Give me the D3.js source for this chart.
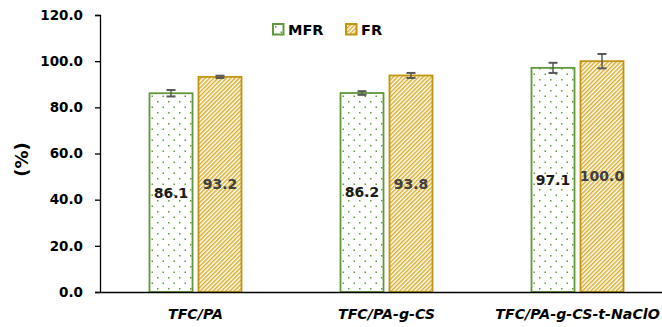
<!DOCTYPE html>
<html>
<head>
<meta charset="utf-8">
<script src="https://cdn.jsdelivr.net/npm/d3@7"></script>
<style>
  body { margin: 0; background: #fff; }
  svg { display: block; font-family: 'DejaVu Sans', sans-serif; }
</style>
</head>
<body>
<svg id="chart" width="662" height="327"></svg>
<script>
const categories = ['TFC/PA', 'TFC/PA-g-CS', 'TFC/PA-g-CS-t-NaClO'];
const seriesNames = ['MFR', 'FR'];
const mfrValues = [86.1, 86.2, 97.1];
const frValues = [93.2, 93.8, 100.0];
const mfrErrors = [1.4, 0.8, 2.2];
const frErrors = [0.5, 1.1, 3.1];
const yTicks = [0, 20, 40, 60, 80, 100, 120];

const MARGINS = { top: 15, bottom: 35, left: 100, right: -11 };
const width = 662, height = 327;

const svg = d3.select('#chart');
const defs = svg.append('defs');

// dotted fill for MFR
const dots = defs.append('pattern').attr('id', 'dots')
  .attr('patternUnits', 'userSpaceOnUse').attr('width', 11).attr('height', 11);
dots.append('rect').attr('width', 11).attr('height', 11).attr('fill', '#fff');
dots.append('rect').attr('x', 2).attr('y', 2).attr('width', 1.5).attr('height', 1.5).attr('fill', '#5f9a3c');
dots.append('rect').attr('x', 7.5).attr('y', 7.5).attr('width', 1.5).attr('height', 1.5).attr('fill', '#5f9a3c');

// diagonal hatch for FR
const hatch = defs.append('pattern').attr('id', 'hatch')
  .attr('patternUnits', 'userSpaceOnUse').attr('width', 3).attr('height', 3)
  .attr('patternTransform', 'rotate(45)');
hatch.append('rect').attr('width', 3).attr('height', 3).attr('fill', '#fff');
hatch.append('rect').attr('x', 0).attr('y', 0).attr('width', 1.5).attr('height', 3).attr('fill', '#d8ad2c');

const styles = {
  MFR: { fill: 'url(#dots)', stroke: '#5f9838', label: '#1a1a1a' },
  FR: { fill: 'url(#hatch)', stroke: '#c19510', label: '#404040' }
};

const rows = categories.map((c, i) => ({
  category: c,
  bars: [
    { key: 'MFR', value: mfrValues[i], err: mfrErrors[i] },
    { key: 'FR', value: frValues[i], err: frErrors[i] }
  ]
}));

const x0 = d3.scaleBand().domain(categories)
  .range([MARGINS.left, width - MARGINS.right]);
const x1 = d3.scaleBand().domain(seriesNames)
  .range([49.5, 141.5]).paddingInner(0.122);
const y = d3.scaleLinear().domain([0, 120]).range([height - MARGINS.bottom, MARGINS.top]);

// bars
const groups = svg.append('g').attr('class', 'bars')
  .selectAll('g').data(rows).join('g')
  .attr('transform', d => `translate(${x0(d.category)},0)`);

groups.selectAll('rect').data(d => d.bars).join('rect')
  .attr('x', d => x1(d.key))
  .attr('y', d => y(d.value))
  .attr('width', x1.bandwidth())
  .attr('height', d => y(0) - y(d.value))
  .attr('fill', d => styles[d.key].fill)
  .attr('stroke', d => styles[d.key].stroke)
  .attr('stroke-width', 1.8);

// error bars
const err = groups.selectAll('g.err').data(d => d.bars).join('g').attr('class', 'err')
  .attr('stroke', '#595959');
err.append('line')
  .attr('x1', d => x1(d.key) + x1.bandwidth() / 2)
  .attr('x2', d => x1(d.key) + x1.bandwidth() / 2)
  .attr('y1', d => y(d.value + d.err))
  .attr('y2', d => y(d.value - d.err))
  .attr('stroke-width', 1.5);
err.selectAll('line.cap').data(d => [[d, d.value + d.err], [d, d.value - d.err]]).join('line')
  .attr('class', 'cap')
  .attr('x1', ([d]) => x1(d.key) + x1.bandwidth() / 2 - 4.5)
  .attr('x2', ([d]) => x1(d.key) + x1.bandwidth() / 2 + 4.5)
  .attr('y1', ([, v]) => y(v))
  .attr('y2', ([, v]) => y(v))
  .attr('stroke-width', 2);

// value labels
groups.selectAll('text').data(d => d.bars).join('text')
  .attr('x', d => x1(d.key) + x1.bandwidth() / 2)
  .attr('y', d => y(d.value / 2))
  .attr('dy', '0.35em')
  .attr('text-anchor', 'middle')
  .attr('font-size', 14)
  .attr('font-weight', 'bold')
  .attr('fill', d => styles[d.key].label)
  .text(d => d.value.toFixed(1));

// y axis
const axisY = svg.append('g')
  .attr('transform', `translate(${MARGINS.left},0)`)
  .call(d3.axisLeft(y).tickValues(yTicks).tickFormat(d3.format('.1f')).tickSize(5).tickPadding(12));
axisY.select('.domain').attr('stroke', '#000').attr('stroke-width', 1.3);
axisY.selectAll('line').attr('stroke', '#000').attr('stroke-width', 1.3);
axisY.selectAll('text').attr('font-size', 13.5).attr('font-weight', 'bold')
  .attr('fill', '#000').attr('font-family', 'DejaVu Sans');

// x axis
const axisX = svg.append('g')
  .attr('transform', `translate(0,${y(0)})`)
  .call(d3.axisBottom(x0).tickSize(0).tickPadding(17));
axisX.select('.domain').attr('stroke', '#000').attr('stroke-width', 1.3);
axisX.selectAll('text').attr('font-size', 14.2).attr('font-weight', 'bold')
  .attr('font-style', 'italic').attr('fill', '#000').attr('font-family', 'DejaVu Sans');

// y title
svg.append('text')
  .attr('transform', `translate(28,${(y(0) + y(120)) / 2 + 6}) rotate(-90)`)
  .attr('text-anchor', 'middle')
  .attr('font-size', 18)
  .attr('font-weight', 'bold')
  .text('(%)');

// legend
const legend = svg.append('g').attr('class', 'legend')
  .selectAll('g').data(seriesNames).join('g')
  .attr('transform', (d, i) => `translate(${273 + i * 73},24)`);
legend.append('rect')
  .attr('width', 10.5).attr('height', 10.5)
  .attr('fill', d => styles[d].fill)
  .attr('stroke', d => styles[d].stroke)
  .attr('stroke-width', 2);
legend.append('text')
  .attr('x', 15).attr('y', 5.5).attr('dy', '0.35em')
  .attr('font-size', 14.5).attr('font-weight', 'bold')
  .text(d => d);
</script>
</body>
</html>
